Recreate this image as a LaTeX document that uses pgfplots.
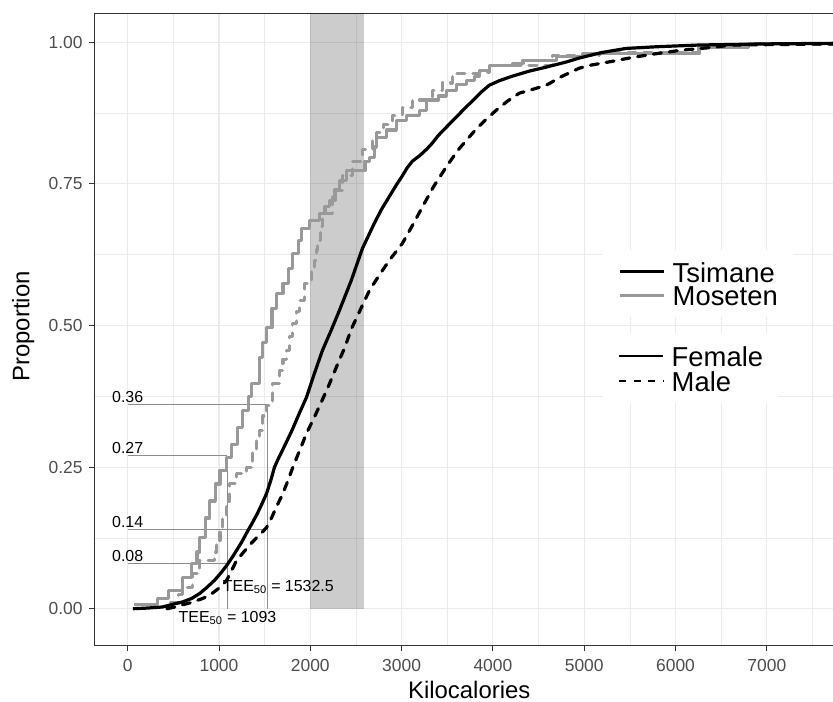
\documentclass[border=0pt]{standalone}
\usepackage{fontspec}
\setmainfont{Liberation Sans}
\usepackage{pgfplots}
\pgfplotsset{compat=1.18}
\definecolor{mgray}{HTML}{999999}
\definecolor{gridc}{HTML}{EBEBEB}
\definecolor{framec}{HTML}{333333}
\definecolor{tickc}{HTML}{4D4D4D}
\definecolor{annc}{HTML}{8C8C8C}
\pgfplotsset{commonax/.style={scale only axis, width=741bp, height=632.4bp,
  xmin=-365.8, xmax=7750, ymin=-0.0653, ymax=1.051},
  legsty/.style={legend style={draw=none, fill=white, inner xsep=15bp, inner ysep=10bp,
   row sep=0pt, font=\fontsize{27.5}{27.5}\selectfont, nodes={inner sep=0pt},
   /tikz/every odd column/.append style={column sep=7.5bp}},
  legend cell align=left,
  legend image code/.code={\draw[##1] (0bp,0bp) -- (44bp,0bp);}}}
\begin{document}
\begin{tikzpicture}
\begin{axis}[commonax, legsty,
  axis line style={framec, line width=1bp},
  xtick={0,1000,2000,3000,4000,5000,6000,7000},
  xticklabels={0,1000,2000,3000,4000,5000,6000,7000},
  ytick={0,0.25,0.5,0.75,1}, yticklabels={0.00,0.25,0.50,0.75,1.00},
  minor xtick={500,1500,2500,3500,4500,5500,6500,7500},
  minor ytick={0.125,0.375,0.625,0.875},
  grid=both, major grid style={gridc, line width=1.1bp}, minor grid style={gridc, line width=0.6bp},
  tick align=outside, major tick length=5bp, minor tick length=0pt, tick pos=left,
  tick style={framec, line width=1bp},
  tick label style={font=\fontsize{17.5}{17.5}\selectfont, text=tickc},
  xticklabel style={anchor=north, inner sep=0pt, yshift=-8.5bp},
  yticklabel style={anchor=east, inner sep=0pt, xshift=-6.6bp},
  xlabel={Kilocalories}, ylabel={Proportion},
  label style={font=\fontsize{24}{24}\selectfont},
  xlabel style={at={(axis description cs:0.506,0)}, anchor=base, yshift=-52.5bp},
  ylabel style={at={(axis description cs:-0.0877,0.5047)}, anchor=base},
  legend style={at={(axis cs:5206,0.634)}, anchor=north west},
]
% shaded band
\addplot[draw=none, fill=black, fill opacity=0.2, forget plot] coordinates {(2000,1.2) (2585,1.2)} \closedcycle;
% reference segments
\addplot[annc, line width=1.1bp, forget plot] coordinates {(0,0.36) (1532.5,0.36)};
\addplot[annc, line width=1.1bp, forget plot] coordinates {(0,0.27) (1093,0.27)};
\addplot[annc, line width=1.1bp, forget plot] coordinates {(0,0.14) (1532.5,0.14)};
\addplot[annc, line width=1.1bp, forget plot] coordinates {(0,0.08) (1093,0.08)};
\addplot[annc, line width=1.1bp, forget plot] coordinates {(1093,0) (1093,0.27)};
\addplot[annc, line width=1.1bp, forget plot] coordinates {(1532.5,0) (1532.5,0.36)};
% Moseten female
\addplot[mgray, line width=3.2bp, const plot, line join=round, forget plot] coordinates {
(70,0.007) (330,0.018) (450,0.032) (600,0.055) (700,0.08) (760,0.10) (790,0.126) (850,0.16) (900,0.19) (960,0.22) (1010,0.244) (1080,0.267) (1140,0.29) (1200,0.32) (1260,0.35) (1320,0.375) (1360,0.397) (1440,0.444) (1480,0.47) (1520,0.496) (1580,0.53) (1630,0.557) (1700,0.574) (1760,0.60) (1805,0.627) (1870,0.65) (1904,0.671) (1991,0.685) (2100,0.698) (2160,0.71) (2210,0.721) (2270,0.74) (2320,0.756) (2396,0.774) (2600,0.79) (2648,0.797) (2700,0.815) (2724,0.832) (2834,0.845) (2943,0.862) (3052,0.871) (3195,0.88) (3271,0.898) (3400,0.905) (3490,0.915) (3600,0.925) (3709,0.933) (3800,0.94) (3851,0.95) (3960,0.959) (4212,0.963) (4330,0.968) (4700,0.975) (4978,0.98) (6258,0.99) (6800,0.998) (7750,0.998)};
% Moseten male
\addplot[mgray, line width=3.2bp, const plot, line join=round, line cap=round, dash pattern=on 8bp off 8bp, forget plot] coordinates {
(470,0.01) (560,0.025) (600,0.037) (711,0.062) (788,0.085) (950,0.10) (973,0.12) (1010,0.14) (1040,0.161) (1080,0.19) (1116,0.221) (1192,0.238) (1302,0.249) (1368,0.279) (1410,0.30) (1444,0.314) (1480,0.34) (1520,0.359) (1586,0.397) (1663,0.42) (1700,0.44) (1740,0.456) (1770,0.48) (1805,0.504) (1850,0.525) (1882,0.544) (1937,0.574) (2013,0.597) (2046,0.615) (2068,0.633) (2079,0.65) (2110,0.675) (2133,0.698) (2243,0.738) (2350,0.765) (2462,0.79) (2571,0.81) (2681,0.827) (2724,0.841) (2800,0.855) (2899,0.871) (3009,0.885) (3118,0.898) (3337,0.915) (3446,0.928) (3556,0.945) (3851,0.947) (3960,0.959) (4650,0.977) (5164,0.982) (6258,0.991) (6783,0.996) (7750,0.996)};
% Tsimane female
\addplot[black, line width=3.2bp, line join=round, forget plot] coordinates {
(57,0) (200,0.001) (380,0.003) (500,0.008) (600,0.012) (700,0.018) (790,0.027) (870,0.038) (950,0.05) (1020,0.063) (1083,0.076) (1150,0.092) (1200,0.105) (1250,0.118) (1300,0.133) (1360,0.15) (1420,0.168) (1470,0.185) (1520,0.203) (1570,0.228) (1608,0.25) (1650,0.265) (1696,0.28) (1750,0.298) (1800,0.315) (1880,0.345) (1958,0.373) (2040,0.413) (2133,0.456) (2230,0.492) (2320,0.527) (2450,0.58) (2571,0.636) (2700,0.68) (2780,0.705) (2867,0.728) (2950,0.75) (3000,0.762) (3060,0.778) (3118,0.79) (3200,0.80) (3280,0.812) (3337,0.822) (3400,0.835) (3490,0.85) (3600,0.868) (3709,0.886) (3800,0.90) (3880,0.913) (3960,0.924) (4070,0.932) (4212,0.94) (4400,0.949) (4584,0.956) (4803,0.965) (4945,0.972) (5200,0.982) (5460,0.989) (5800,0.992) (6258,0.995) (7000,0.997) (7750,0.998)};
% Tsimane male
\addplot[black, line width=3.2bp, line join=round, line cap=round, dash pattern=on 8bp off 8bp, forget plot] coordinates {
(430,0) (520,0.003) (600,0.007) (700,0.011) (820,0.018) (900,0.024) (1006,0.037) (1083,0.05) (1140,0.068) (1192,0.085) (1270,0.1) (1350,0.115) (1430,0.128) (1520,0.143) (1580,0.162) (1630,0.18) (1690,0.2) (1740,0.22) (1810,0.25) (1882,0.279) (1960,0.31) (2050,0.34) (2130,0.368) (2210,0.397) (2300,0.432) (2380,0.462) (2450,0.494) (2540,0.525) (2648,0.562) (2760,0.59) (2866,0.615) (3009,0.645) (3120,0.677) (3227,0.709) (3350,0.745) (3490,0.78) (3620,0.81) (3775,0.839) (3900,0.86) (4037,0.88) (4160,0.896) (4289,0.91) (4420,0.916) (4584,0.924) (4760,0.94) (4945,0.954) (5055,0.959) (5300,0.966) (5525,0.973) (5800,0.98) (6072,0.986) (6350,0.99) (6619,0.995) (7200,0.996) (7750,0.997)};
% legend (population)
\addlegendimage{black, line width=3bp}
\addlegendentry{\rule[-2.7bp]{0pt}{25bp}Tsimane}
\addlegendimage{mgray, line width=3bp}
\addlegendentry{\rule[-2.7bp]{0pt}{25bp}Moseten}
% labels
\node[font=\fontsize{16}{16}\selectfont, anchor=base, yshift=2bp] at (axis cs:0,0.36) {0.36};
\node[font=\fontsize{16}{16}\selectfont, anchor=base, yshift=2bp] at (axis cs:0,0.27) {0.27};
\node[font=\fontsize{16}{16}\selectfont, anchor=base, yshift=2bp] at (axis cs:0,0.14) {0.14};
\node[font=\fontsize{16}{16}\selectfont, anchor=base, yshift=2bp] at (axis cs:0,0.08) {0.08};
\node[font=\fontsize{16}{16}\selectfont, anchor=base] at (axis cs:1650,0.0306) {TEE\textsubscript{50} = 1532.5};
\node[font=\fontsize{16}{16}\selectfont, anchor=base] at (axis cs:1093,-0.024) {TEE\textsubscript{50} = 1093};
\end{axis}
\begin{axis}[commonax, hide axis, legsty,
  legend style={at={(axis cs:5206,0.485)}, anchor=north west}]
\addlegendimage{black, line width=2bp}
\addlegendentry{\rule[-3.2bp]{0pt}{26bp}Female}
\addlegendimage{black, line width=2bp, dash pattern=on 7bp off 7.5bp}
\addlegendentry{\rule[-3.2bp]{0pt}{26bp}Male}
\end{axis}
\pgfresetboundingbox
\path ([xshift=-94.3bp,yshift=-56.3bp]current axis.south west) rectangle ([xshift=738.7bp,yshift=13.3bp]current axis.north west);
\end{tikzpicture}
\end{document}
